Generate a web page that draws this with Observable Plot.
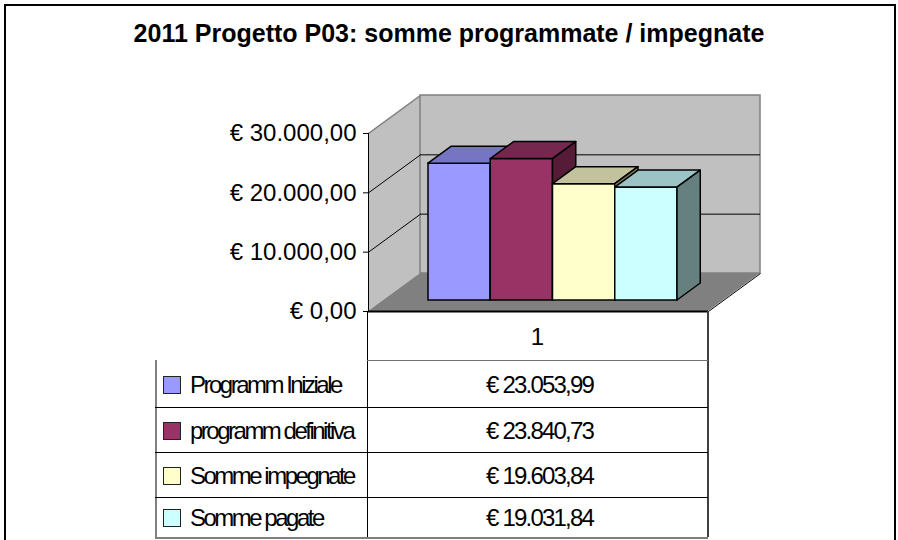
<!DOCTYPE html>
<html>
<head>
<meta charset="utf-8">
<script src="https://cdn.jsdelivr.net/npm/d3@7"></script>
<script src="https://cdn.jsdelivr.net/npm/@observablehq/plot@0.6"></script>
<style>
  html, body { margin: 0; padding: 0; background: #fff; }
  #wrap { position: relative; width: 898px; height: 540px; overflow: hidden; font-family: "Liberation Sans", Arial, sans-serif; }
  #frame { position: absolute; left: 4px; top: 4px; width: 892px; height: 600px; border: 2px solid #000; box-sizing: border-box; }
  #title { position: absolute; left: 0; top: 21px; width: 898px; text-align: center; font-weight: bold; font-size: 25px; line-height: 25px; color: #000; }
  #chart { position: absolute; left: 0; top: 0; }
  .ln { position: absolute; }
  .txt { position: absolute; font-size: 24px; line-height: 24px; color: #000; white-space: nowrap; }
  .sw { position: absolute; width: 16px; height: 16px; border: 1.5px solid #222; }
</style>
</head>
<body>
<div id="wrap">
  <div id="frame"></div>
  <div id="title">2011 Progetto P03: somme programmate / impegnate</div>
  <div id="chart"></div>
  <div id="table"></div>
</div>
<script>
// ---- data ----
const series = ["Programm Iniziale", "programm definitiva", "Somme impegnate", "Somme pagate"];
const values = [23053.99, 23840.73, 19603.84, 19031.84];
const categories = ["1"];
const yTicks = [0, 10000, 20000, 30000];
const frontColors = ["#9999ff", "#993366", "#ffffcc", "#ccffff"];
const topColors = ["#7575c4", "#75284f", "#c2c29c", "#9cc4c4"];
const sideColors = ["#4d4d80", "#561b37", "#808066", "#668080"];

// ---- formatting ----
const itLocale = d3.formatLocale({decimal: ",", thousands: ".", grouping: [3], currency: ["€ ", ""]});
const fmt = itLocale.format("$,.2f");

// ---- layout (pixels) ----
const W = 898, H = 330;
const mL = 368, mR = 190, mT = 133, mB = 19;
const plotW = W - mL - mR, plotH = H - mT - mB;
const yMax = yTicks[yTicks.length - 1];
const px = 1 / plotW;              // x units per pixel
const vy = yMax / plotH;           // value units per pixel
const DX = 52 * px, DY = 38 * vy;  // depth of the floor/back wall
const f = 11 / 38, g = 17 / 38;    // bar front recess and bar depth (fractions of depth)

const band = d3.scaleBand().domain(series).range([60 * px, 309 * px]).padding(0);

const bars = series.map((s, i) => ({s, v: values[i], i, x1: band(s), x2: band(s) + band.bandwidth()}));

const barMarks = bars.flatMap(b => {
  const base = f * DY;
  return [
    Plot.rect([b], {x1: "x1", x2: "x2", y1: () => base, y2: d => d.v + base,
      fill: frontColors[b.i], stroke: "#000", strokeWidth: 1.5}),
    Plot.areaX([
      {y: b.v + base, x1: b.x1, x2: b.x2},
      {y: b.v + base + g * DY, x1: b.x1 + g * DX, x2: b.x2 + g * DX}
    ], {y: "y", x1: "x1", x2: "x2", fill: topColors[b.i], stroke: "#000", strokeWidth: 1.5, strokeLinejoin: "round"}),
    Plot.areaY([
      {x: b.x2, y1: base, y2: b.v + base},
      {x: b.x2 + g * DX, y1: base + g * DY, y2: b.v + base + g * DY}
    ], {x: "x", y1: "y1", y2: "y2", fill: sideColors[b.i], stroke: "#000", strokeWidth: 1.5, strokeLinejoin: "round"})
  ];
});

const inner = yTicks.slice(1, -1);

const chart = Plot.plot({
  width: W, height: H,
  marginLeft: mL, marginRight: mR, marginTop: mT, marginBottom: mB,
  style: {background: "transparent", fontFamily: "Liberation Sans, Arial, sans-serif", fontSize: "24px", color: "#000"},
  x: {domain: [0, 1], axis: null},
  y: {domain: [0, yMax]},
  marks: [
    // left wall
    Plot.areaY([{x: 0, y1: 0, y2: yMax}, {x: DX, y1: DY, y2: yMax + DY}], {x: "x", y1: "y1", y2: "y2", fill: "#c0c0c0"}),
    // back wall
    Plot.rect([{x1: DX, x2: 1 + DX, y1: DY, y2: yMax + DY}], {x1: "x1", x2: "x2", y1: "y1", y2: "y2", fill: "#c0c0c0", stroke: "#808080", strokeWidth: 1.5}),
    // floor
    Plot.areaX([{y: 0, x1: 0, x2: 1}, {y: DY, x1: DX, x2: 1 + DX}], {y: "y", x1: "x1", x2: "x2", fill: "#808080"}),
    // gridlines
    Plot.ruleY(inner, {y: d => d + DY, x1: () => DX, x2: () => 1 + DX, stroke: "#000", strokeWidth: 1}),
    Plot.link(inner, {x1: () => 0, y1: d => d, x2: () => DX, y2: d => d + DY, stroke: "#000", strokeWidth: 1}),
    Plot.link([yMax], {x1: () => 0, y1: d => d, x2: () => DX, y2: d => d + DY, stroke: "#808080", strokeWidth: 1.5}),
    // floor edges
    Plot.link([0], {x1: () => 1, y1: d => d, x2: () => 1 + DX, y2: d => d + DY, stroke: "#000", strokeWidth: 1}),
    Plot.ruleY([0], {x1: () => 0, x2: () => 1, stroke: "#000", strokeWidth: 2}),
    // value axis line
    Plot.ruleX([0], {y1: () => 0, y2: () => yMax, stroke: "#000", strokeWidth: 1}),
    ...barMarks,
    Plot.axisY(yTicks, {tickFormat: fmt, tickSize: 5, tickPadding: 7, fontSize: 24, stroke: "#000", fill: "#000"})
  ]
});
document.getElementById("chart").appendChild(chart);

// ---- data table ----
const tbl = document.getElementById("table");
const tLeft = 155, tDiv = 367, tRight = 708, tTop = 311;
const rowLines = [360, 407, 452, 497, 537];
function line(x, y, w, h, color) {
  const d = document.createElement("div");
  d.className = "ln";
  Object.assign(d.style, {left: x + "px", top: y + "px", width: w + "px", height: h + "px", background: color});
  tbl.appendChild(d);
}
function text(str, x, yCenter, opts) {
  const d = document.createElement("div");
  d.className = "txt";
  d.textContent = str;
  Object.assign(d.style, {top: (yCenter - 12) + "px", letterSpacing: (opts.ls || 0) + "px"});
  if (opts.center) { d.style.left = (x - 200) + "px"; d.style.width = "400px"; d.style.textAlign = "center"; }
  else d.style.left = x + "px";
  tbl.appendChild(d);
}
// vertical lines
line(tDiv - 0.5, tTop, 1, rowLines[rowLines.length - 1] - tTop, "#000");
line(tRight - 1, tTop, 1.5, rowLines[rowLines.length - 1] - tTop, "#404040");
line(tLeft, rowLines[0], 2, rowLines[rowLines.length - 1] - rowLines[0], "#808080");
// horizontal lines
rowLines.forEach((y, i) => {
  line(i === 0 ? tDiv : tLeft, y - 0.5, tRight - (i === 0 ? tDiv : tLeft), i === rowLines.length - 1 ? 2 : 1, i === rowLines.length - 1 ? "#808080" : (i === 0 ? "#707070" : "#000"));
});
// header
text(categories[0], (tDiv + tRight) / 2, (tTop + rowLines[0]) / 2 + 1, {center: true});
// rows
series.forEach((s, i) => {
  const yc = (rowLines[i] + rowLines[i + 1]) / 2 + 1;
  const sw = document.createElement("div");
  sw.className = "sw";
  Object.assign(sw.style, {left: "163px", top: (yc - 9) + "px", background: frontColors[i]});
  tbl.appendChild(sw);
  text(s, 190, yc, {ls: -2.5});
  text(fmt(values[i]), (tDiv + tRight) / 2 + 2, yc, {center: true, ls: -1.8});
});
</script>
</body>
</html>
